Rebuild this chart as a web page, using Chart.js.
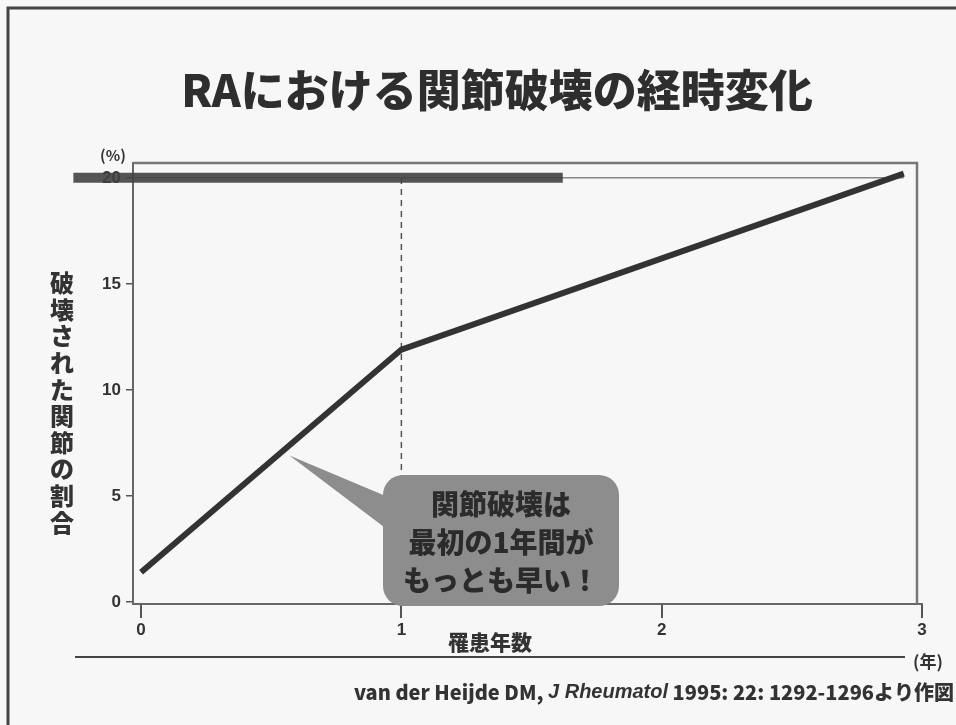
<!DOCTYPE html>
<html>
<head>
<meta charset="utf-8">
<script src="https://cdn.jsdelivr.net/npm/chart.js@4/dist/chart.umd.min.js"></script>
<style>
  html, body { margin: 0; padding: 0; background: #f7f7f7; }
  #wrap { position: relative; width: 956px; height: 725px; overflow: hidden; }
  canvas { display: block; }
</style>
</head>
<body>
<div id="wrap"><canvas id="raChart" width="956" height="725"></canvas></div>
<script>
// Data
const years = [0, 1, 2.93];
const destroyedPct = [1.4, 11.9, 20.2];
const xTicks = [0, 1, 2, 3];
const yTicks = [0, 5, 10, 15, 20];
const refYear = 1;              // dashed marker at year 1
const barYears = [-0.26, 1.62]; // dark band on the 20% line
const barLevel = 20;

const titleText = 'RAにおける関節破壊の経時変化';
const yTitle = '破壊された関節の割合';
const xTitle = '罹患年数';
const calloutLines = ['関節破壊は', '最初の1年間が', 'もっとも早い！'];

const JP = '"Noto Sans CJK JP", "Noto Sans", sans-serif';
const ink = '#333333';

const slidePlugin = {
    id: 'slide',
    beforeDraw(chart) {
        const c = chart.ctx;
        c.save();
        c.fillStyle = '#f7f7f7';
        c.fillRect(0, 0, chart.width, chart.height);
        // slide border (left + top)
        c.strokeStyle = '#444';
        c.lineWidth = 3;
        c.beginPath();
        c.moveTo(8, chart.height);
        c.lineTo(8, 8);
        c.lineTo(chart.width, 8);
        c.stroke();
        c.restore();
    },
    afterDatasetsDraw(chart) {
        const c = chart.ctx;
        const a = chart.chartArea;
        const xs = chart.scales.x, ys = chart.scales.y;
        c.save();

        // frame top/right
        c.strokeStyle = '#777';
        c.lineWidth = 2.5;
        c.beginPath();
        c.moveTo(a.left, a.top);
        c.lineTo(a.right - 5, a.top);
        c.lineTo(a.right - 5, a.bottom);
        c.stroke();

        // title
        c.fillStyle = '#2e2e2e';
        c.font = '900 44px ' + JP;
        c.textAlign = 'center';
        c.textBaseline = 'middle';
        c.fillText(titleText, 497, 90);

        // (%)
        c.font = 'bold 15px ' + JP;
        c.fillStyle = ink;
        c.fillText('(%)', 113, 155);

        // vertical y title
        c.font = '900 24px ' + JP;
        [...yTitle].forEach((ch, i) => c.fillText(ch, 62, 283 + i * 26.6));

        // x title
        c.font = '900 21px ' + JP;
        c.fillText(xTitle, 490, 642);

        // rule under axis + (年)
        c.strokeStyle = '#444';
        c.lineWidth = 2;
        c.beginPath();
        c.moveTo(75, 657);
        c.lineTo(905, 657);
        c.stroke();
        c.font = 'bold 17px ' + JP;
        c.fillText('(年)', 928, 662);

        // citation
        const parts = [
            ['900 20px ' + JP, 'van der Heijde DM, '],
            ['italic bold 20px "Liberation Sans", sans-serif', 'J Rheumatol'],
            ['900 20px ' + JP, ' 1995: 22: 1292-1296より作図']
        ];
        let total = 0;
        parts.forEach(p => { c.font = p[0]; total += c.measureText(p[1]).width; });
        let x = 954 - total;
        c.textAlign = 'left';
        parts.forEach(p => {
            c.font = p[0];
            c.fillText(p[1], x, 692);
            x += c.measureText(p[1]).width;
        });

        // callout bubble pointing at the curve
        const tipX = xs.getPixelForValue(0.57);
        const tipY = ys.getPixelForValue(6.9);
        const bx = 383, by = 475, bw = 236, bh = 131, r = 20;
        c.fillStyle = '#8d8d8d';
        c.beginPath();
        c.moveTo(bx + 5, by + 22);
        c.lineTo(tipX, tipY);
        c.lineTo(bx + 5, by + 55);
        c.closePath();
        c.fill();
        c.beginPath();
        c.roundRect(bx, by, bw, bh, r);
        c.fill();
        c.fillStyle = '#2b2b2b';
        c.textAlign = 'center';
        c.font = '900 28px ' + JP;
        calloutLines.forEach((t, i) => c.fillText(t, bx + bw / 2, 504 + i * 38));

        c.restore();
    }
};

const tickFont = { family: '"Liberation Sans", Arial, sans-serif', size: 17, weight: 'bold' };

new Chart(document.getElementById('raChart'), {
    type: 'line',
    data: {
        datasets: [
            {
                label: 'destroyed',
                data: years.map((x, i) => ({ x: x, y: destroyedPct[i] })),
                borderColor: '#333',
                borderWidth: 6,
                pointRadius: 0,
                tension: 0,
                clip: false,
                order: 0
            },
            {
                label: 'band',
                data: barYears.map(x => ({ x: x, y: barLevel })),
                borderColor: 'rgba(65,65,65,0.9)',
                borderWidth: 10,
                borderCapStyle: 'butt',
                pointRadius: 0,
                clip: false,
                order: 1
            },
            {
                label: 'level20',
                data: [{ x: -0.03, y: barLevel }, { x: years[2], y: barLevel }],
                borderColor: '#888',
                borderWidth: 1.5,
                pointRadius: 0,
                clip: false,
                order: 2
            },
            {
                label: 'year1',
                data: [{ x: refYear, y: 0 }, { x: refYear, y: barLevel }],
                borderColor: '#555',
                borderWidth: 1.5,
                borderDash: [6, 5],
                pointRadius: 0,
                clip: false,
                order: 3
            }
        ]
    },
    options: {
        responsive: false,
        animation: false,
        devicePixelRatio: 1,
        layout: { padding: { top: 163, right: 34, left: 0, bottom: 0 } },
        plugins: { legend: { display: false }, tooltip: { enabled: false }, title: { display: false } },
        scales: {
            x: {
                type: 'linear',
                min: -0.031,
                max: 3,
                afterFit: s => { s.height = 121; },
                afterBuildTicks: s => { s.ticks = xTicks.map(v => ({ value: v })); },
                ticks: { font: tickFont, color: ink, padding: 2 },
                grid: { drawOnChartArea: false, tickLength: 14, color: '#555', lineWidth: 2 },
                border: { color: '#666', width: 2 }
            },
            y: {
                type: 'linear',
                min: -0.1,
                max: 20.7,
                afterFit: s => { s.width = 133; },
                afterBuildTicks: s => { s.ticks = yTicks.map(v => ({ value: v })); },
                ticks: { font: tickFont, color: ink, padding: 5 },
                grid: { drawOnChartArea: false, tickLength: 7, color: '#555', lineWidth: 1.5 },
                border: { color: '#666', width: 2 }
            }
        }
    },
    plugins: [slidePlugin]
});
</script>
</body>
</html>
